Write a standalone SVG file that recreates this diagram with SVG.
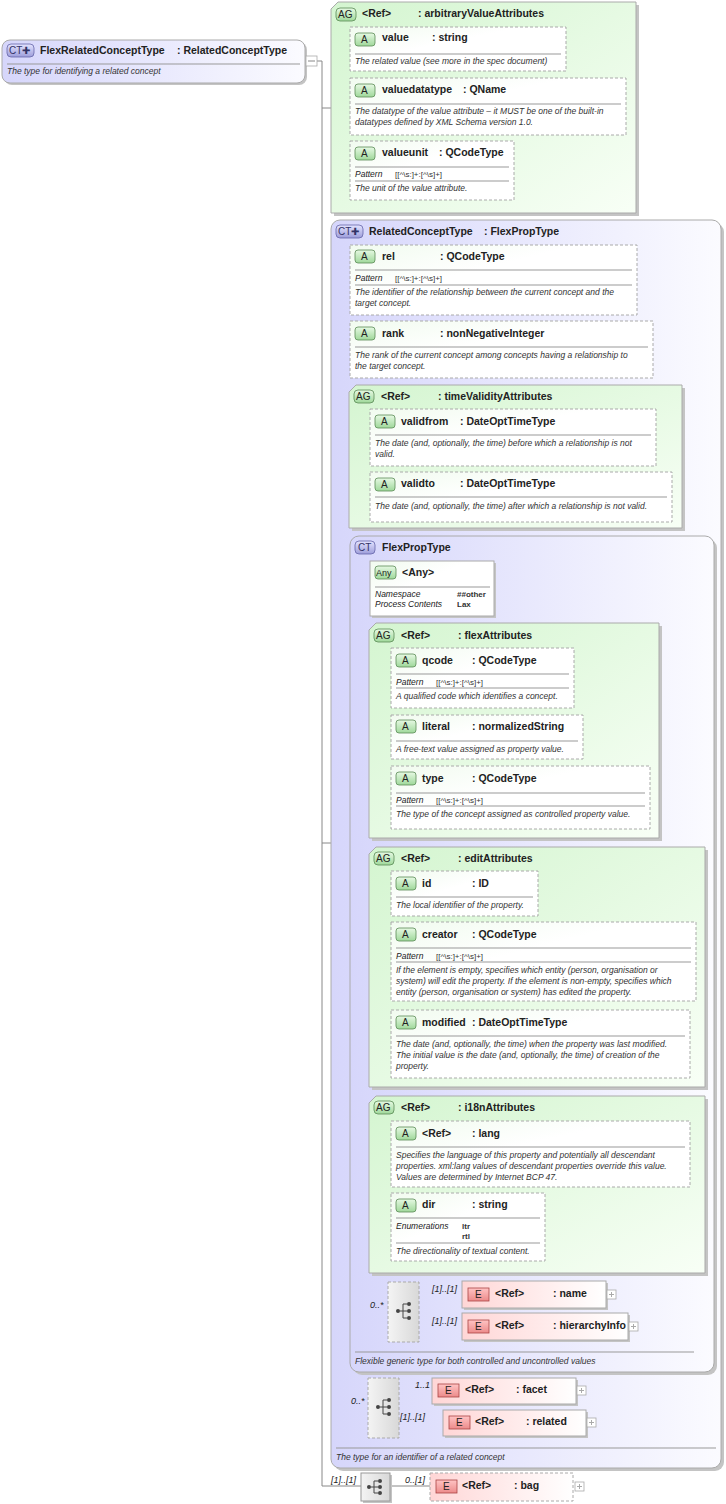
<svg xmlns="http://www.w3.org/2000/svg" width="726" height="1504" viewBox="0 0 726 1504">
<defs>
<linearGradient id="gAG" x1="0" y1="0" x2="1" y2="1"><stop offset="0" stop-color="#d4f5d0"/><stop offset="1" stop-color="#f8fff6"/></linearGradient>
<linearGradient id="gCT" x1="0" y1="0" x2="1" y2="0"><stop offset="0" stop-color="#d6d6fb"/><stop offset="1" stop-color="#fbfbff"/></linearGradient>
<linearGradient id="gA" x1="0" y1="0" x2="1" y2="1"><stop offset="0" stop-color="#f1fbef"/><stop offset="0.4" stop-color="#ffffff"/></linearGradient>
<linearGradient id="gE" x1="0" y1="0" x2="1" y2="0"><stop offset="0" stop-color="#ffd6d6"/><stop offset="1" stop-color="#ffffff"/></linearGradient>
<linearGradient id="gS" x1="0" y1="0" x2="1" y2="0"><stop offset="0" stop-color="#f4f4f4"/><stop offset="1" stop-color="#d8d8d8"/></linearGradient>
<linearGradient id="gBA" x1="0" y1="0" x2="0" y2="1"><stop offset="0" stop-color="#e6f9e3"/><stop offset="1" stop-color="#9fd89a"/></linearGradient>
<linearGradient id="gBE" x1="0" y1="0" x2="0" y2="1"><stop offset="0" stop-color="#ffc4c4"/><stop offset="1" stop-color="#ec8a8a"/></linearGradient>
<linearGradient id="gBC" x1="0" y1="0" x2="0" y2="1"><stop offset="0" stop-color="#e4e4ff"/><stop offset="1" stop-color="#9d9dda"/></linearGradient>
</defs>
<style>
text{font-family:"Liberation Sans",Arial,sans-serif;fill:#222}
.t{font-size:10.5px;font-weight:bold}
.d{font-size:8.5px;font-style:italic;fill:#333}
.p{font-size:8px;fill:#333}
.pi{font-size:8.5px;font-style:italic;fill:#222}
.m{font-size:9px;font-style:italic}
.g{font-size:10px}
.sh{fill:#c4c4c4}
.ag{fill:url(#gAG);stroke:#aaa;stroke-width:1}
.ct{fill:url(#gCT);stroke:#aaa;stroke-width:1}
.a{fill:url(#gA);stroke:#aaa;stroke-width:1;stroke-dasharray:3,2}
.e{fill:url(#gE);stroke:#aaa;stroke-width:1}
.ed{fill:url(#gE);stroke:#aaa;stroke-width:1;stroke-dasharray:3,2}
.sq{fill:url(#gS);stroke:#aaa;stroke-width:1;stroke-dasharray:3,2}
.sqs{fill:url(#gS);stroke:#999;stroke-width:1}
.ba{fill:url(#gBA);stroke:#5a8a55;stroke-width:0.8}
.be{fill:url(#gBE);stroke:#a44;stroke-width:0.8}
.bc{fill:url(#gBC);stroke:#66a;stroke-width:0.8}
.hl{stroke:#999;stroke-width:1}
.c{fill:none;stroke:#888;stroke-width:1}
.x{fill:#fff;stroke:#aaa;stroke-width:0.8}
.dot{fill:#444}
</style>

<g id="connectors">
<path class="c" d="M317 61H322V1486H361"/>
<path class="c" d="M322 108H331M322 843H331"/>
<path class="c" d="M345 50V168M345 50H350M345 108H350M345 168H350"/>
<path class="c" d="M340 280V1405H368M340 280H350M340 350H350M340 455H349M340 843H350"/>
<path class="c" d="M362 455V491M362 455H370M362 491H370"/>
<path class="c" d="M360 590V1310H388M360 590H370M360 732H369M360 955H369M360 1185H369"/>
<path class="c" d="M381 680V800M381 680H391M381 737H391M381 800H391"/>
<path class="c" d="M381 910V1040M381 910H391M381 960H391M381 1040H391"/>
<path class="c" d="M381 1160V1230M381 1160H391M381 1230H391"/>
<path class="c" d="M419 1311H426V1294H462M426 1311V1326H462"/>
<path class="c" d="M399 1406H406V1390H432M406 1406V1422H443"/>
<path class="c" d="M390 1486H430"/>
</g>

<g id="root">
<rect class="sh" x="4" y="42" width="303" height="43" rx="8"/>
<rect class="ct" x="2" y="40" width="303" height="43" rx="8"/>
<rect class="bc" x="7" y="44" width="27" height="13" rx="4"/><text class="g" x="9" y="54" style="fill:#336">CT✚</text>
<text class="t" x="40" y="54">FlexRelatedConceptType</text><text class="t" x="177" y="54">: RelatedConceptType</text>
<line class="hl" x1="7" y1="64" x2="300" y2="64"/>
<text class="d" x="7" y="74">The type for identifying a related concept</text>
<rect class="x" x="306" y="56" width="11" height="10"/><line x1="308" y1="61" x2="315" y2="61" stroke="#888"/>
</g>

<g id="ag-arbitrary">
<path class="sh" d="M341 5H639V216H334V12Z"/>
<path class="ag" d="M338 2H636V213H331V9Z"/>
<rect class="ba" x="336" y="8" width="20" height="13" rx="4"/><text class="g" x="338" y="18">AG</text>
<text class="t" x="362" y="17">&lt;Ref&gt;</text><text class="t" x="418" y="17">: arbitraryValueAttributes</text>
</g>
<g id="a-value"><rect class="a" x="350" y="27" width="216" height="44"/><rect class="ba" x="355" y="33" width="20" height="13" rx="3"/><text class="g" x="361" y="43">A</text><text class="t" x="382" y="41">value</text><text class="t" x="432" y="41">: string</text><line class="hl" x1="355" y1="54" x2="561" y2="54"/><text class="d" x="355" y="64">The related value (see more in the spec document)</text></g>
<g id="a-valuedatatype"><rect class="a" x="350" y="78" width="276" height="57"/><rect class="ba" x="355" y="84" width="20" height="13" rx="3"/><text class="g" x="361" y="94">A</text><text class="t" x="382" y="93">valuedatatype</text><text class="t" x="463" y="93">: QName</text><line class="hl" x1="355" y1="104" x2="621" y2="104"/><text class="d" x="355" y="114">The datatype of the value attribute – it MUST be one of the built-in</text><text class="d" x="355" y="125">datatypes defined by XML Schema version 1.0.</text></g>
<g id="a-valueunit"><rect class="a" x="350" y="141" width="164" height="59"/><rect class="ba" x="355" y="147" width="20" height="13" rx="3"/><text class="g" x="361" y="157">A</text><text class="t" x="382" y="156">valueunit</text><text class="t" x="439" y="156">: QCodeType</text><line class="hl" x1="355" y1="167" x2="509" y2="167"/><text class="pi" x="355" y="177">Pattern</text><text class="p" x="395" y="177">[[^\s:]+:[^\s]+]</text><line class="hl" x1="355" y1="181" x2="509" y2="181"/><text class="d" x="355" y="191">The unit of the value attribute.</text></g>

<g id="ct-related">
<rect class="sh" x="334" y="223" width="390" height="1248" rx="9"/>
<rect class="ct" x="331" y="220" width="390" height="1248" rx="9"/>
<rect class="bc" x="336" y="225" width="27" height="13" rx="4"/><text class="g" x="338" y="235" style="fill:#336">CT✚</text>
<text class="t" x="369" y="235">RelatedConceptType</text><text class="t" x="484" y="235">: FlexPropType</text>
<line class="hl" x1="336" y1="1448" x2="716" y2="1448"/>
<text class="d" x="336" y="1460">The type for an identifier of a related concept</text>
</g>
<g id="a-rel"><rect class="a" x="350" y="245" width="287" height="70"/><rect class="ba" x="355" y="250" width="20" height="13" rx="3"/><text class="g" x="361" y="260">A</text><text class="t" x="382" y="260">rel</text><text class="t" x="440" y="260">: QCodeType</text><line class="hl" x1="355" y1="270" x2="632" y2="270"/><text class="pi" x="355" y="281">Pattern</text><text class="p" x="395" y="281">[[^\s:]+:[^\s]+]</text><line class="hl" x1="355" y1="285" x2="632" y2="285"/><text class="d" x="355" y="295">The identifier of the relationship between the current concept and the</text><text class="d" x="355" y="306">target concept.</text></g>
<g id="a-rank"><rect class="a" x="350" y="321" width="303" height="57"/><rect class="ba" x="355" y="327" width="20" height="13" rx="3"/><text class="g" x="361" y="337">A</text><text class="t" x="382" y="337">rank</text><text class="t" x="440" y="337">: nonNegativeInteger</text><line class="hl" x1="355" y1="347" x2="648" y2="347"/><text class="d" x="355" y="358">The rank of the current concept among concepts having a relationship to</text><text class="d" x="355" y="369">the target concept.</text></g>

<g id="ag-time">
<path class="sh" d="M359 388H685V531H352V395Z"/>
<path class="ag" d="M356 385H682V528H349V392Z"/>
<rect class="ba" x="354" y="390" width="20" height="13" rx="4"/><text class="g" x="356" y="400">AG</text>
<text class="t" x="381" y="400">&lt;Ref&gt;</text><text class="t" x="438" y="400">: timeValidityAttributes</text>
</g>
<g id="a-validfrom"><rect class="a" x="370" y="409" width="286" height="57"/><rect class="ba" x="375" y="415" width="20" height="13" rx="3"/><text class="g" x="381" y="425">A</text><text class="t" x="401" y="425">validfrom</text><text class="t" x="460" y="425">: DateOptTimeType</text><line class="hl" x1="375" y1="435" x2="651" y2="435"/><text class="d" x="375" y="446">The date (and, optionally, the time) before which a relationship is not</text><text class="d" x="375" y="457">valid.</text></g>
<g id="a-validto"><rect class="a" x="370" y="472" width="302" height="50"/><rect class="ba" x="375" y="478" width="20" height="13" rx="3"/><text class="g" x="381" y="488">A</text><text class="t" x="401" y="487">validto</text><text class="t" x="460" y="487">: DateOptTimeType</text><line class="hl" x1="375" y1="497" x2="667" y2="497"/><text class="d" x="375" y="509">The date (and, optionally, the time) after which a relationship is not valid.</text></g>

<g id="ct-flexprop">
<rect class="sh" x="353" y="539" width="364" height="836" rx="9"/>
<rect class="ct" x="350" y="536" width="364" height="836" rx="9"/>
<rect class="bc" x="355" y="541" width="20" height="13" rx="4"/><text class="g" x="358" y="551" style="fill:#336">CT</text>
<text class="t" x="382" y="551">FlexPropType</text>
<line class="hl" x1="355" y1="1352" x2="694" y2="1352"/>
<text class="d" x="355" y="1364">Flexible generic type for both controlled and uncontrolled values</text>
</g>
<g id="any"><rect class="sh" x="372" y="563" width="124" height="55"/><rect fill="url(#gA)" stroke="#aaa" x="370" y="561" width="124" height="55"/><rect class="ba" x="375" y="566" width="21" height="13" rx="3"/><text x="376" y="576" style="font-size:9px">Any</text><text class="t" x="402" y="576">&lt;Any&gt;</text><line class="hl" x1="375" y1="587" x2="490" y2="587"/><text class="pi" x="375" y="597">Namespace</text><text class="p" x="457" y="597" style="font-weight:bold">##other</text><text class="pi" x="375" y="607">Process Contents</text><text class="p" x="457" y="607" style="font-weight:bold">Lax</text></g>

<g id="ag-flex">
<path class="sh" d="M379 626H662V841H372V633Z"/>
<path class="ag" d="M376 623H659V838H369V630Z"/>
<rect class="ba" x="374" y="629" width="20" height="13" rx="4"/><text class="g" x="376" y="639">AG</text>
<text class="t" x="401" y="639">&lt;Ref&gt;</text><text class="t" x="458" y="639">: flexAttributes</text>
</g>
<g id="a-qcode"><rect class="a" x="391" y="648" width="183" height="60"/><rect class="ba" x="396" y="654" width="20" height="13" rx="3"/><text class="g" x="402" y="664">A</text><text class="t" x="422" y="664">qcode</text><text class="t" x="472" y="664">: QCodeType</text><line class="hl" x1="396" y1="674" x2="569" y2="674"/><text class="pi" x="396" y="685">Pattern</text><text class="p" x="436" y="685">[[^\s:]+:[^\s]+]</text><line class="hl" x1="396" y1="688" x2="569" y2="688"/><text class="d" x="396" y="699">A qualified code which identifies a concept.</text></g>
<g id="a-literal"><rect class="a" x="391" y="715" width="192" height="44"/><rect class="ba" x="396" y="720" width="20" height="13" rx="3"/><text class="g" x="402" y="730">A</text><text class="t" x="422" y="730">literal</text><text class="t" x="472" y="730">: normalizedString</text><line class="hl" x1="396" y1="741" x2="578" y2="741"/><text class="d" x="396" y="752">A free-text value assigned as property value.</text></g>
<g id="a-type"><rect class="a" x="391" y="766" width="259" height="63"/><rect class="ba" x="396" y="772" width="20" height="13" rx="3"/><text class="g" x="402" y="782">A</text><text class="t" x="422" y="782">type</text><text class="t" x="472" y="782">: QCodeType</text><line class="hl" x1="396" y1="793" x2="645" y2="793"/><text class="pi" x="396" y="803">Pattern</text><text class="p" x="436" y="803">[[^\s:]+:[^\s]+]</text><line class="hl" x1="396" y1="806" x2="645" y2="806"/><text class="d" x="396" y="817">The type of the concept assigned as controlled property value.</text></g>

<g id="ag-edit">
<path class="sh" d="M379 850H708V1090H372V857Z"/>
<path class="ag" d="M376 847H705V1087H369V854Z"/>
<rect class="ba" x="374" y="852" width="20" height="13" rx="4"/><text class="g" x="376" y="862">AG</text>
<text class="t" x="401" y="862">&lt;Ref&gt;</text><text class="t" x="458" y="862">: editAttributes</text>
</g>
<g id="a-id"><rect class="a" x="391" y="871" width="147" height="45"/><rect class="ba" x="396" y="877" width="20" height="13" rx="3"/><text class="g" x="402" y="887">A</text><text class="t" x="422" y="887">id</text><text class="t" x="472" y="887">: ID</text><line class="hl" x1="396" y1="897" x2="533" y2="897"/><text class="d" x="396" y="908">The local identifier of the property.</text></g>
<g id="a-creator"><rect class="a" x="391" y="922" width="305" height="79"/><rect class="ba" x="396" y="928" width="20" height="13" rx="3"/><text class="g" x="402" y="938">A</text><text class="t" x="422" y="938">creator</text><text class="t" x="472" y="938">: QCodeType</text><line class="hl" x1="396" y1="948" x2="691" y2="948"/><text class="pi" x="396" y="959">Pattern</text><text class="p" x="436" y="959">[[^\s:]+:[^\s]+]</text><line class="hl" x1="396" y1="962" x2="691" y2="962"/><text class="d" x="396" y="973">If the element is empty, specifies which entity (person, organisation or</text><text class="d" x="396" y="984">system) will edit the property. If the element is non-empty, specifies which</text><text class="d" x="396" y="995">entity (person, organisation or system) has edited the property.</text></g>
<g id="a-modified"><rect class="a" x="391" y="1010" width="299" height="68"/><rect class="ba" x="396" y="1016" width="20" height="13" rx="3"/><text class="g" x="402" y="1026">A</text><text class="t" x="422" y="1026">modified</text><text class="t" x="472" y="1026">: DateOptTimeType</text><line class="hl" x1="396" y1="1036" x2="685" y2="1036"/><text class="d" x="396" y="1047">The date (and, optionally, the time) when the property was last modified.</text><text class="d" x="396" y="1058">The initial value is the date (and, optionally, the time) of creation of the</text><text class="d" x="396" y="1069">property.</text></g>

<g id="ag-i18n">
<path class="sh" d="M379 1099H708V1276H372V1106Z"/>
<path class="ag" d="M376 1096H705V1273H369V1103Z"/>
<rect class="ba" x="374" y="1101" width="20" height="13" rx="4"/><text class="g" x="376" y="1111">AG</text>
<text class="t" x="401" y="1111">&lt;Ref&gt;</text><text class="t" x="458" y="1111">: i18nAttributes</text>
</g>
<g id="a-lang"><rect class="a" x="391" y="1121" width="299" height="66"/><rect class="ba" x="396" y="1127" width="20" height="13" rx="3"/><text class="g" x="402" y="1137">A</text><text class="t" x="422" y="1137">&lt;Ref&gt;</text><text class="t" x="472" y="1137">: lang</text><line class="hl" x1="396" y1="1147" x2="685" y2="1147"/><text class="d" x="396" y="1158">Specifies the language of this property and potentially all descendant</text><text class="d" x="396" y="1169">properties. xml:lang values of descendant properties override this value.</text><text class="d" x="396" y="1180">Values are determined by Internet BCP 47.</text></g>
<g id="a-dir"><rect class="a" x="391" y="1193" width="154" height="68"/><rect class="ba" x="396" y="1199" width="20" height="13" rx="3"/><text class="g" x="402" y="1209">A</text><text class="t" x="422" y="1208">dir</text><text class="t" x="472" y="1208">: string</text><line class="hl" x1="396" y1="1218" x2="540" y2="1218"/><text class="pi" x="396" y="1229">Enumerations</text><text class="p" x="462" y="1229" style="font-weight:bold">ltr</text><text class="p" x="462" y="1239" style="font-weight:bold">rtl</text><line class="hl" x1="396" y1="1243" x2="540" y2="1243"/><text class="d" x="396" y="1254">The directionality of textual content.</text></g>

<g id="seq-flex">
<rect class="sq" x="388" y="1282" width="31" height="60"/>
<circle class="dot" cx="398" cy="1311" r="2"/><path d="M400 1311H403M403 1304V1318M403 1304H407M403 1311H407M403 1318H407" stroke="#444" fill="none"/><circle class="dot" cx="409" cy="1304" r="2"/><circle class="dot" cx="409" cy="1311" r="2"/><circle class="dot" cx="409" cy="1318" r="2"/>
<text class="m" x="370" y="1308">0..*</text>
<text class="m" x="432" y="1292">[1]..[1]</text><text class="m" x="432" y="1324">[1]..[1]</text>
</g>
<g id="e-name"><rect class="sh" x="464" y="1283" width="144" height="27"/><rect class="e" x="462" y="1281" width="144" height="27"/><rect class="be" x="468" y="1288" width="21" height="13"/><text class="g" x="475" y="1298">E</text><text class="t" x="495" y="1297">&lt;Ref&gt;</text><text class="t" x="553" y="1297">: name</text><rect class="x" x="607" y="1290" width="9" height="9"/><path d="M609 1294.5H614M611.5 1292V1297" stroke="#aaa"/></g>
<g id="e-hierarchy"><rect class="sh" x="464" y="1315" width="166" height="27"/><rect class="e" x="462" y="1313" width="166" height="27"/><rect class="be" x="468" y="1320" width="21" height="13"/><text class="g" x="475" y="1330">E</text><text class="t" x="495" y="1329">&lt;Ref&gt;</text><text class="t" x="553" y="1329">: hierarchyInfo</text><rect class="x" x="629" y="1322" width="9" height="9"/><path d="M631 1326.5H636M633.5 1324V1329" stroke="#aaa"/></g>

<g id="seq-related">
<rect class="sq" x="368" y="1378" width="31" height="60"/>
<circle class="dot" cx="378" cy="1407" r="2"/><path d="M380 1407H383M383 1400V1414M383 1400H387M383 1407H387M383 1414H387" stroke="#444" fill="none"/><circle class="dot" cx="389" cy="1400" r="2"/><circle class="dot" cx="389" cy="1407" r="2"/><circle class="dot" cx="389" cy="1414" r="2"/>
<text class="m" x="351" y="1404">0..*</text>
<text class="m" x="415" y="1388">1..1</text><text class="m" x="400" y="1420">[1]..[1]</text>
</g>
<g id="e-facet"><rect class="sh" x="434" y="1380" width="144" height="26"/><rect class="e" x="432" y="1378" width="144" height="26"/><rect class="be" x="438" y="1384" width="21" height="13"/><text class="g" x="445" y="1394">E</text><text class="t" x="465" y="1393">&lt;Ref&gt;</text><text class="t" x="516" y="1393">: facet</text><rect class="x" x="577" y="1386" width="9" height="9"/><path d="M579 1390.5H584M581.5 1388V1393" stroke="#aaa"/></g>
<g id="e-related"><rect class="sh" x="445" y="1412" width="143" height="26"/><rect class="e" x="443" y="1410" width="143" height="26"/><rect class="be" x="449" y="1416" width="21" height="13"/><text class="g" x="456" y="1426">E</text><text class="t" x="475" y="1425">&lt;Ref&gt;</text><text class="t" x="526" y="1425">: related</text><rect class="x" x="587" y="1418" width="9" height="9"/><path d="M589 1422.5H594M591.5 1420V1425" stroke="#aaa"/></g>

<g id="seq-bag">
<rect class="sh" x="363" y="1475" width="29" height="28"/>
<rect class="sqs" x="361" y="1473" width="29" height="28"/>
<circle class="dot" cx="369" cy="1487" r="2"/><path d="M371 1487H374M374 1481V1493M374 1481H378M374 1487H378M374 1493H378" stroke="#444" fill="none"/><circle class="dot" cx="380" cy="1481" r="2"/><circle class="dot" cx="380" cy="1487" r="2"/><circle class="dot" cx="380" cy="1493" r="2"/>
<text class="m" x="331" y="1483">[1]..[1]</text>
<text class="m" x="405" y="1483">0..[1]</text>
</g>
<g id="e-bag"><rect class="ed" x="430" y="1473" width="143" height="28"/><rect class="be" x="436" y="1480" width="21" height="13"/><text class="g" x="443" y="1490">E</text><text class="t" x="462" y="1489">&lt;Ref&gt;</text><text class="t" x="514" y="1489">: bag</text><rect class="x" x="575" y="1482" width="9" height="9"/><path d="M577 1486.5H582M579.5 1484V1489" stroke="#aaa"/></g>
</svg>
